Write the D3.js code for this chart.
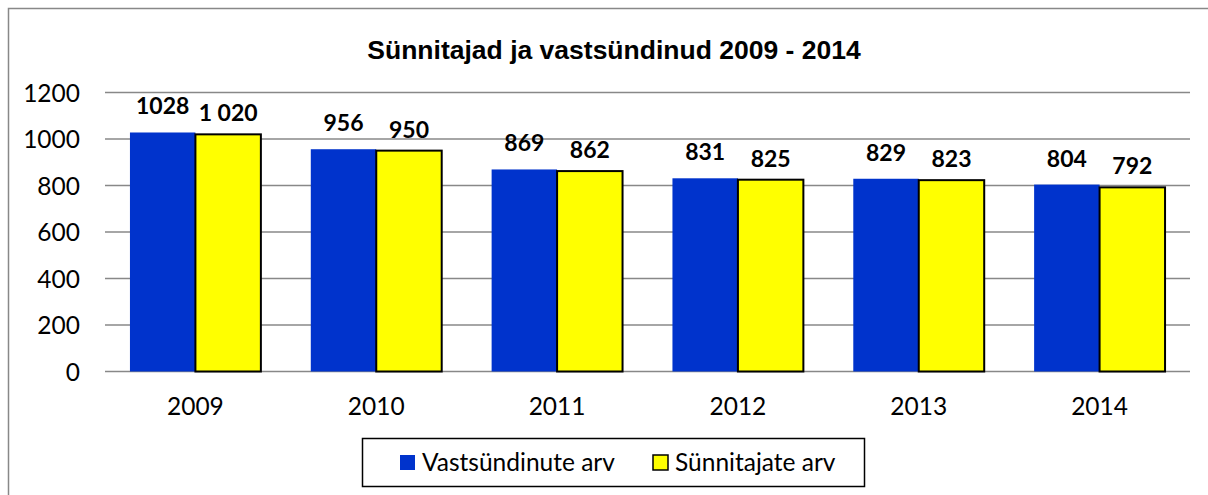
<!DOCTYPE html>
<html><head><meta charset="utf-8">
<script src="https://cdn.jsdelivr.net/npm/d3@7"></script>
<style>body{margin:0;background:#fff}svg{display:block}</style>
</head><body><svg id="c" width="1208" height="495"></svg>
<script>
const categories = ["2009","2010","2011","2012","2013","2014"];
const seriesNames = ["Vastsündinute arv","Sünnitajate arv"];
const newborns = [1028,956,869,831,829,804];
const mothers = [1020,950,862,825,823,792];
const newbornLabels = ["1028","956","869","831","829","804"];
const motherLabels = ["1 020","950","862","825","823","792"];
const yTicks = [0,200,400,600,800,1000,1200];
const title = "Sünnitajad ja vastsündinud 2009 - 2014";

const svg = d3.select("#c");
const FONT = "Lato, 'Open Sans', sans-serif";
const colors = ["#0033CC","#FFFF00"];
const labelGap = [18,13];

svg.append("path").attr("d","M8.5,500 V8.5 H1210").attr("fill","none").attr("stroke","#888").attr("stroke-width",1.5);

svg.append("text").attr("x",614).attr("y",59).attr("text-anchor","middle")
  .attr("font-family","'Liberation Sans', Arial, sans-serif").attr("font-weight","bold").attr("font-size",26.5)
  .text(title);

const x0 = 105, x1 = 1190;
const y = d3.scaleLinear().domain([0,1200]).range([371.5,92.5]);
const xb = d3.scaleBand().domain(categories).range([x0,x1]).paddingInner(0.276).paddingOuter(0.138);
const xs = d3.scaleBand().domain([0,1]).range([0,xb.bandwidth()]);

svg.append("g").selectAll("line").data(yTicks).join("line")
  .attr("x1",x0).attr("x2",x1).attr("y1",d=>y(d)).attr("y2",d=>y(d))
  .attr("stroke","#888").attr("stroke-width",1.5);

const yAxis = d3.axisLeft(y).tickValues(yTicks).tickSize(0).tickPadding(0).tickFormat(d=>String(d));
const ya = svg.append("g").attr("transform","translate(80,0)").call(yAxis);
ya.select(".domain").remove();
ya.selectAll("text").attr("font-family",FONT).attr("font-size",24.5).attr("fill","#000").attr("dy","0.35em");

const xAxis = d3.axisBottom(xb).tickSize(0).tickPadding(0);
const xa = svg.append("g").attr("transform","translate(0,406)").call(xAxis);
xa.select(".domain").remove();
xa.selectAll("text").attr("font-family",FONT).attr("font-size",24.5).attr("fill","#000").attr("dy","0.35em");

const series = [newborns, mothers];
const labels = [newbornLabels, motherLabels];
series.forEach((vals,si)=>{
  const bars = svg.append("g");
  bars.selectAll("rect").data(vals).join("rect")
    .attr("x",(d,i)=>xb(categories[i])+xs(si))
    .attr("y",d=>y(d))
    .attr("width",xs.bandwidth())
    .attr("height",d=>y(0)-y(d))
    .attr("fill",colors[si])
    .attr("stroke",si===1?"#000":"none")
    .attr("stroke-width",2);
  bars.selectAll("text").data(vals).join("text")
    .attr("x",(d,i)=>xb(categories[i])+xs(si)+xs.bandwidth()/2)
    .attr("y",d=>y(d)-labelGap[si])
    .attr("text-anchor","middle")
    .attr("font-family",FONT).attr("font-weight","bold").attr("font-size",23)
    .text((d,i)=>labels[si][i]);
});

const lg = svg.append("g");
lg.append("rect").attr("x",362.5).attr("y",438.5).attr("width",502).attr("height",48)
  .attr("fill","#fff").attr("stroke","#000").attr("stroke-width",1.5);
const legendX = [400,653];
seriesNames.forEach((n,i)=>{
  lg.append("rect").attr("x",legendX[i]).attr("y",455).attr("width",15).attr("height",15)
    .attr("fill",colors[i]).attr("stroke",i===1?"#000":"none").attr("stroke-width",1.5);
  lg.append("text").attr("x",legendX[i]+22).attr("y",462.5).attr("dy","0.35em")
    .attr("font-family",FONT).attr("font-size",24.5).text(n);
});
</script></body></html>
